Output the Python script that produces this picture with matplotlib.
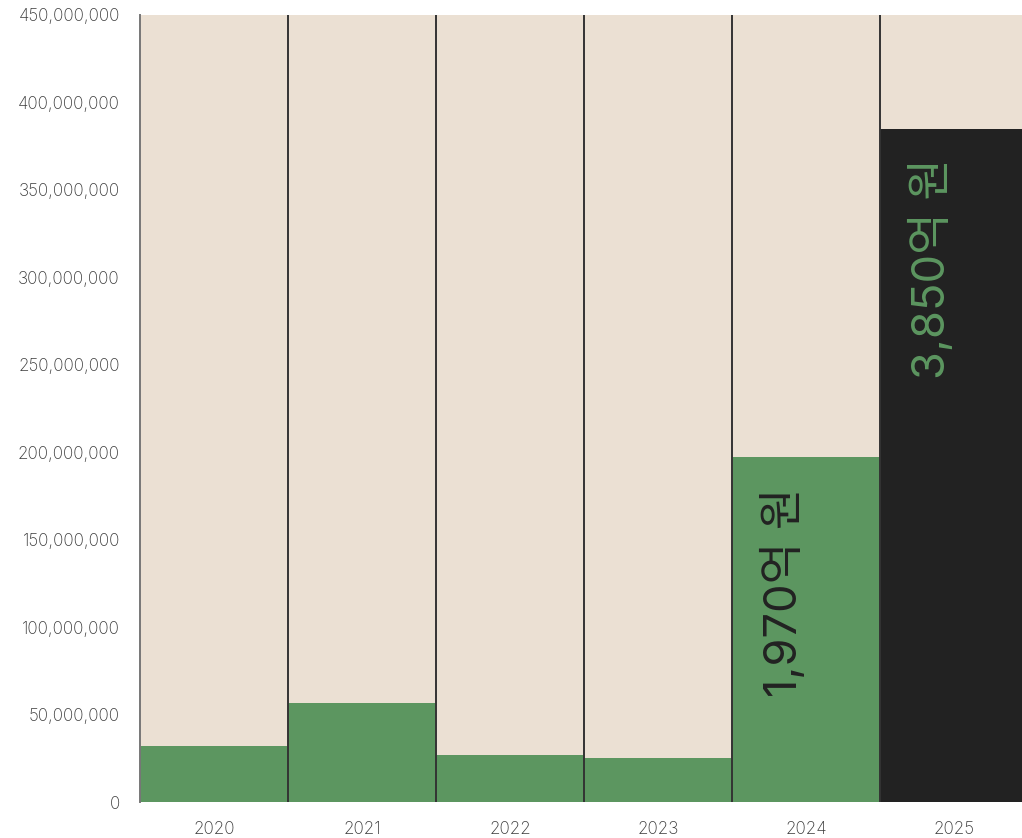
import matplotlib
matplotlib.use("Agg")
import matplotlib.pyplot as plt
from matplotlib.ticker import FuncFormatter, MultipleLocator

# yearly totals (thousand won)
years = ['2020', '2021', '2022', '2023', '2024', '2025']
totals = [32000000, 56600000, 26800000, 25300000, 197000000, 385000000]
labelled = {4: '#222222', 5: '#5C9660'}

BEIGE = '#EBE0D3'
GREEN = '#5C9660'
DARK = '#222222'

fig = plt.figure(figsize=(10.22, 8.38), dpi=100)
ax = fig.add_axes([140 / 1022, 1 - 802 / 838, 888 / 1022, 787 / 838])
ax.set_facecolor(BEIGE)

x = list(range(len(years)))
colors = [GREEN] * 5 + [DARK]
ax.bar(x, totals, width=1.0, color=colors, linewidth=0, zorder=2)

# column separators
for i in x[1:]:
    ax.axvline(i - 0.5, color='#333333', lw=1.4, zorder=3)

for i, c in labelled.items():
    txt = f"{totals[i] / 100000:,.0f}억 원"
    ax.text(i - 0.15, totals[i] - 17000000, txt, rotation=90, ha='center', va='top',
            color=c, fontsize=32.5, family=['Inter', 'Noto Sans CJK KR'], zorder=4)

ax.set_xlim(-0.5, 5.5)
ax.set_ylim(0, 450000000)
ax.yaxis.set_major_locator(MultipleLocator(50000000))
ax.yaxis.set_major_formatter(FuncFormatter(lambda v, p: f"{v:,.0f}"))
ax.set_xticks(x)
ax.set_xticklabels(years)
ax.tick_params(length=0, labelsize=12.3, labelcolor='#3a3a3a')
ax.tick_params(axis='y', pad=14.5)
ax.tick_params(axis='x', pad=13.5)
for lab in ax.get_xticklabels() + ax.get_yticklabels():
    lab.set_family(['Inter', 'DejaVu Sans'])
    lab.set_fontweight('light')

for s in ['top', 'right', 'bottom']:
    ax.spines[s].set_visible(False)
ax.spines['left'].set_color('#777777')
ax.spines['left'].set_linewidth(1.4)
ax.spines['left'].set_zorder(3)

fig.savefig('out.png', dpi=100, facecolor='white')
